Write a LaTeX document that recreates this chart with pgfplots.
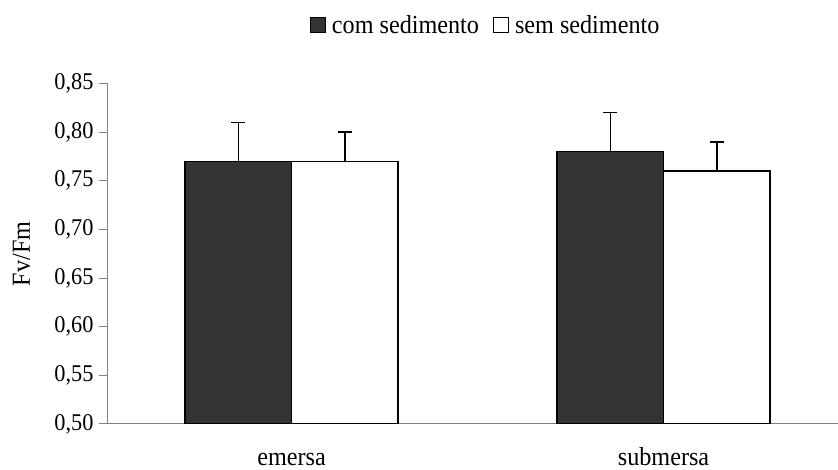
\documentclass[border=0pt]{standalone}
\usepackage{fontspec}
\setmainfont{Liberation Serif}[FakeStretch=0.93]
\usepackage{pgfplots}
\pgfplotsset{compat=1.18}
\definecolor{darkbar}{HTML}{333333}
\definecolor{axisgray}{HTML}{808080}
\begin{document}
\begin{tikzpicture}[x=1pt,y=1pt]
\path[use as bounding box] (0,0) rectangle (838,470);
\begin{axis}[
  at={(107pt,46pt)}, anchor=south west,
  scale only axis, width=731pt, height=340.5pt,
  xmin=-0.496, xmax=1.469, ymin=0.5, ymax=0.85,
  axis lines*=left,
  axis line style={axisgray, line width=1pt},
  ybar=0pt, bar width=106.5pt,
  ytick={0.5,0.55,0.6,0.65,0.7,0.75,0.8,0.85},
  yticklabel style={/pgf/number format/fixed, /pgf/number format/fixed zerofill, /pgf/number format/precision=2, /pgf/number format/use comma, /pgf/number format/assume math mode=true,
    font=\fontsize{24}{26}\selectfont, xshift=-2pt},
  xtick={0,1}, xticklabels={emersa, submersa},
  xticklabel style={font=\fontsize{26}{28}\selectfont, anchor=base, inner sep=0pt, outer sep=0pt, yshift=-34pt},
  major x tick style={draw=none},
  extra x ticks={0.5}, extra x tick labels={},
  extra x tick style={major tick style={draw=axisgray, line width=1pt}, major tick length=8pt},
  tick align=outside, major tick length=8pt,
  tick style={axisgray, line width=1pt},
  ylabel={Fv/Fm},
  ylabel style={font=\fontsize{26}{28}\selectfont, at={(axis description cs:-0.117,0.5)}, anchor=center},
  legend style={at={(axis description cs:0.518,1.172)}, anchor=center, draw=none, fill=none,
    font=\fontsize{26}{28}\selectfont, legend columns=2,
    /tikz/every odd column/.append style={column sep=4pt},
    /tikz/every even column/.append style={column sep=12pt}},
  legend image code/.code={\draw[#1, line width=1pt] (0pt,-7.5pt) rectangle (15pt,7.5pt);},
  error bars/y dir=plus, error bars/y explicit,
  error bars/error bar style={black, line width=1.5pt},
  error bars/error mark=|,
  error bars/error mark options={black, line width=1.5pt, mark size=7pt},
]
\addplot[fill=darkbar, draw=black, line width=1.5pt] coordinates {(0,0.77) +- (0,0.04) (1,0.78) +- (0,0.04)};
\addplot[fill=white, draw=black, line width=1.5pt] coordinates {(0,0.77) +- (0,0.03) (1,0.76) +- (0,0.03)};
\legend{com sedimento, sem sedimento}
\end{axis}
\end{tikzpicture}
\end{document}
